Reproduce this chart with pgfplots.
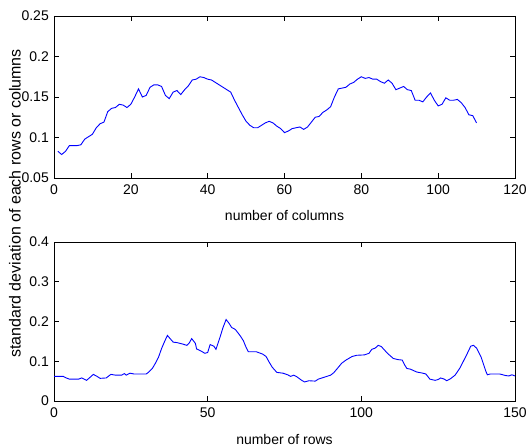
\documentclass[border=0pt]{standalone}
\usepackage{fontspec}
\setmainfont{Liberation Sans}
\usepackage{pgfplots}
\pgfplotsset{compat=1.18}

\pgfplotstableread{
x y
1 0.083
2 0.079
3 0.083
4 0.090
5 0.090
6 0.090
7 0.091
8 0.098
9 0.101
10 0.104
11 0.112
12 0.117
13 0.119
14 0.132
15 0.136
16 0.137
17 0.141
18 0.140
19 0.137
20 0.141
21 0.150
22 0.160
23 0.150
24 0.152
25 0.162
26 0.165
27 0.165
28 0.163
29 0.152
30 0.148
31 0.156
32 0.158
33 0.153
34 0.159
35 0.164
36 0.171
37 0.172
38 0.175
39 0.174
40 0.172
41 0.171
42 0.168
43 0.165
44 0.162
45 0.159
46 0.156
47 0.146
48 0.137
49 0.128
50 0.120
51 0.115
52 0.112
53 0.112
54 0.115
55 0.118
56 0.120
57 0.118
58 0.114
59 0.111
60 0.106
61 0.108
62 0.111
63 0.112
64 0.113
65 0.110
66 0.113
67 0.119
68 0.125
69 0.126
70 0.131
71 0.134
72 0.138
73 0.150
74 0.160
75 0.161
76 0.162
77 0.166
78 0.168
79 0.172
80 0.175
81 0.173
82 0.174
83 0.172
84 0.172
85 0.169
86 0.167
87 0.171
88 0.167
89 0.159
90 0.161
91 0.163
92 0.159
93 0.158
94 0.146
95 0.146
96 0.144
97 0.150
98 0.155
99 0.146
100 0.139
101 0.141
102 0.149
103 0.146
104 0.146
105 0.147
106 0.143
107 0.137
108 0.128
109 0.127
110 0.118
}\cols

\pgfplotstableread{
x y
0 0.062
3 0.062
4 0.058
5 0.055
8 0.055
9 0.058
10.6 0.052
11.5 0.058
12.8 0.067
14 0.062
15 0.057
17 0.058
18.5 0.067
20 0.065
22 0.065
22.9 0.069
23.5 0.065
24.7 0.070
26 0.068
30 0.068
30.7 0.072
32 0.082
33 0.095
34 0.110
35 0.132
36 0.150
36.9 0.165
38 0.155
38.8 0.148
40 0.147
42 0.143
43.2 0.140
44 0.146
44.8 0.157
46 0.145
46.4 0.131
48 0.125
49.1 0.120
50 0.122
50.8 0.142
52 0.138
52.7 0.130
54 0.160
55 0.185
56 0.205
57 0.195
57.8 0.185
59 0.180
60.5 0.165
61.6 0.152
62.5 0.135
63.2 0.124
65.8 0.124
67.9 0.118
69 0.112
70 0.098
71 0.085
72.5 0.072
74.5 0.070
76 0.066
77 0.062
78 0.065
79 0.061
80.6 0.052
81.5 0.048
83 0.051
85 0.050
86 0.055
88 0.060
90 0.065
91 0.071
92 0.080
93.6 0.095
95 0.103
97 0.112
98.5 0.115
101 0.116
102.5 0.120
103.4 0.130
104.5 0.133
105.5 0.140
106.5 0.137
108.5 0.120
110.4 0.107
112 0.104
113.3 0.103
114 0.092
114.8 0.082
116 0.080
118 0.073
120 0.070
121 0.068
122.3 0.055
124 0.052
125 0.054
125.8 0.058
127 0.055
127.8 0.051
129 0.056
130.5 0.065
132 0.082
133.2 0.100
134.5 0.120
135.6 0.138
136.5 0.140
137.5 0.133
139 0.110
140.5 0.075
141 0.066
142 0.068
145 0.068
147 0.064
148 0.063
149 0.066
150 0.063
}\rows

\pgfplotsset{
  mat/.style={
    scale only axis,
    width=461bp,
    tick align=inside,
    tick pos=both,
    major tick length=5bp,
    axis line style={line width=0.8bp},
    tick style={line width=0.6bp, black},
    font=\fontsize{14bp}{16bp}\selectfont,
    /pgf/number format/assume math mode=true,
    yticklabel style={inner sep=0pt, xshift=-5bp},
    xticklabel style={inner sep=0pt, yshift=-7bp, anchor=north},
    xlabel style={at={(axis description cs:0.5,0)}, anchor=base, yshift=-42bp, inner sep=0pt},
    scaled ticks=false,
  },
}

\begin{document}
\begin{tikzpicture}
\useasboundingbox (-54bp,-269bp) rectangle (472bp,178bp);

\begin{axis}[mat,
  at={(0,0)}, anchor=south west,
  height=162bp,
  xmin=0, xmax=120, ymin=0.05, ymax=0.25,
  xtick={0,20,...,120},
  ytick={0.05,0.1,0.15,0.2,0.25},
  yticklabels={0.05,0.1,0.15,0.2,0.25},
  xlabel={number of columns},
]
\addplot[blue, line width=0.9bp] table[x=x,y=y] {\cols};
\end{axis}

\begin{axis}[mat,
  at={(0,-223bp)}, anchor=south west,
  height=159bp,
  xmin=0, xmax=150, ymin=0, ymax=0.4,
  xtick={0,50,100,150},
  ytick={0,0.1,0.2,0.3,0.4},
  yticklabels={0,0.1,0.2,0.3,0.4},
  xlabel={number of rows},
  xlabel style={yshift=-1bp},
]
\addplot[blue, line width=0.9bp] table[x=x,y=y] {\rows};
\end{axis}

\node[rotate=90, font=\fontsize{16bp}{18bp}\selectfont, inner sep=0pt] at (-39bp,-25.5bp) {standard deviation of each rows or columns};
\end{tikzpicture}
\end{document}
